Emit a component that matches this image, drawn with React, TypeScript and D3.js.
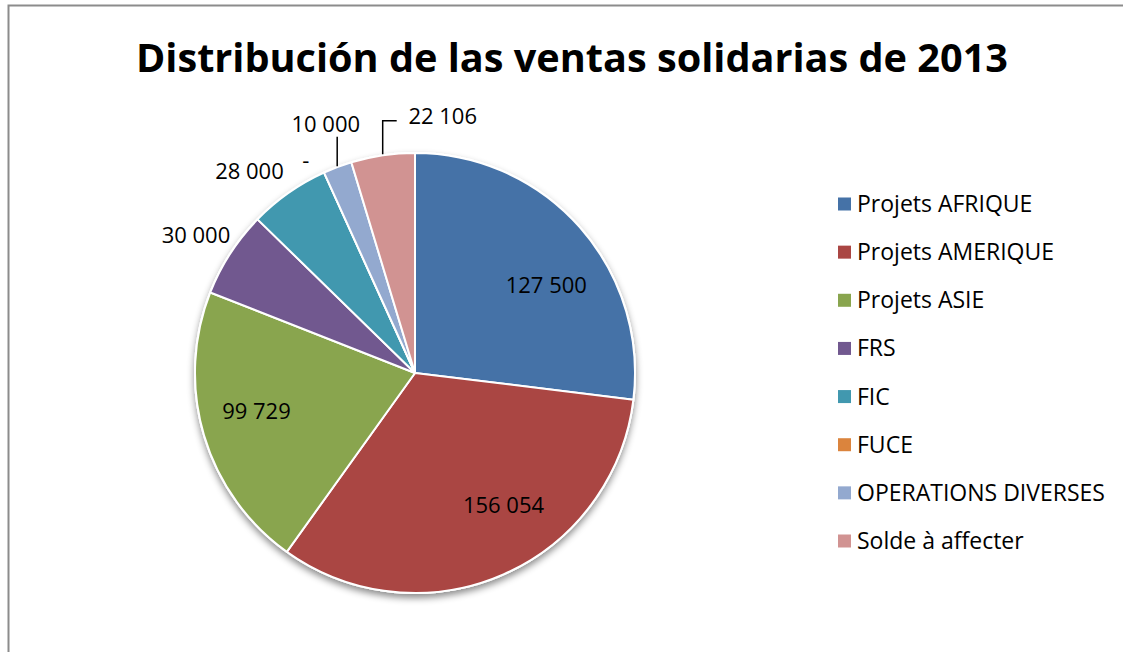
import * as d3 from "d3";

const title = "Distribución de las ventas solidarias de 2013";
const categories = [
  "Projets AFRIQUE",
  "Projets AMERIQUE",
  "Projets ASIE",
  "FRS",
  "FIC",
  "FUCE",
  "OPERATIONS DIVERSES",
  "Solde à affecter",
];
const values = [127500, 156054, 99729, 30000, 28000, 0, 10000, 22106];
const colors = ["#4572A7", "#AA4643", "#89A54E", "#71588F", "#4198AF", "#DB843D", "#93A9CF", "#D19392"];

// small hand tweaks so labels sit where Excel put them
const labelNudge: { [key: number]: [number, number] } = {
  0: [13, 17],
  1: [25, -12],
  2: [-7, -6],
  3: [1, 5],
  4: [-15, 13],
  5: [-1, 26],
  6: [3, -3],
  7: [66, 2],
};
// labels pushed away from their slice get a leader line
const withLeader = [6, 7];

const fr = d3.formatLocale({ decimal: ",", thousands: " ", grouping: [3], currency: ["", ""] });
const fmt = (v: number) => (v === 0 ? "-" : fr.format(",")(v));

export default function App() {
  const W = 1123;
  const H = 652;
  const cx = 415;
  const cy = 373;
  const r = 220;
  const font = "'Open Sans', sans-serif";

  const arcs = d3.pie<number>().sort(null).value((d) => d)(values);
  const arc = d3.arc<d3.PieArcDatum<number>>().innerRadius(0).outerRadius(r);
  const total = d3.sum(values);

  const labels = arcs.map((a, i) => {
    const mid = (a.startAngle + a.endAngle) / 2;
    const inside = a.value / total > 0.1;
    const R = inside ? 158 : 262;
    const [nx, ny] = labelNudge[i] || [0, 0];
    const x = cx + R * Math.sin(mid) + nx;
    const y = cy - R * Math.cos(mid) + ny;
    const ex = cx + (r + 1) * Math.sin(mid);
    const ey = cy - (r + 1) * Math.cos(mid);
    let leader: string | null = null;
    if (withLeader.includes(i)) {
      if (Math.abs(x - ex) < 20) {
        leader = `M${ex},${ey}V${y + 12}`;
      } else {
        leader = `M${ex},${ey}V${y + 5}H${x - 46}`;
      }
    }
    return { x, y, text: fmt(a.value), leader };
  });

  const legendX = 838;
  const legendY = d3.scalePoint<string>().domain(categories).range([204, 541]);

  return (
    <div style={{ position: "absolute", left: 0, top: 0 }}>
      <svg width={W} height={H} style={{ display: "block", background: "#fff" }}>
        <defs>
          <filter id="shadow" x="-20%" y="-20%" width="140%" height="140%">
            <feDropShadow dx="0" dy="4" stdDeviation="3.5" floodColor="#000" floodOpacity="0.45" />
          </filter>
        </defs>
        <path d={`M${W},5.5H8.5V${H}`} fill="none" stroke="#8c8c8c" strokeWidth={2} />
        <text
          x={572}
          y={72}
          textAnchor="middle"
          fontFamily={font}
          fontWeight={700}
          fontSize={40}
          textLength={872}
          lengthAdjust="spacingAndGlyphs"
          fill="#000"
        >
          {title}
        </text>
        <g transform={`translate(${cx},${cy})`}>
          <circle r={r + 1} fill="#fff" filter="url(#shadow)" />
          {arcs.map((a, i) => (
            <path key={i} d={arc(a) || ""} fill={colors[i]} stroke="#fff" strokeWidth={2} strokeLinejoin="round" />
          ))}
        </g>
        {labels.map((l, i) =>
          l.leader ? <path key={"l" + i} d={l.leader} fill="none" stroke="#000" strokeWidth={1.5} /> : null
        )}
        {labels.map((l, i) => (
          <text
            key={"t" + i}
            x={l.x}
            y={l.y}
            dy="0.35em"
            textAnchor="middle"
            fontFamily={font}
            fontSize={22}
            fill="#000"
          >
            {l.text}
          </text>
        ))}
        {categories.map((c, i) => (
          <g key={c} transform={`translate(${legendX},${legendY(c)})`}>
            <rect x={0} y={-6.5} width={13} height={13} fill={colors[i]} />
            <text x={19} dy="0.35em" fontFamily={font} fontSize={23} fill="#000">
              {c}
            </text>
          </g>
        ))}
      </svg>
    </div>
  );
}
